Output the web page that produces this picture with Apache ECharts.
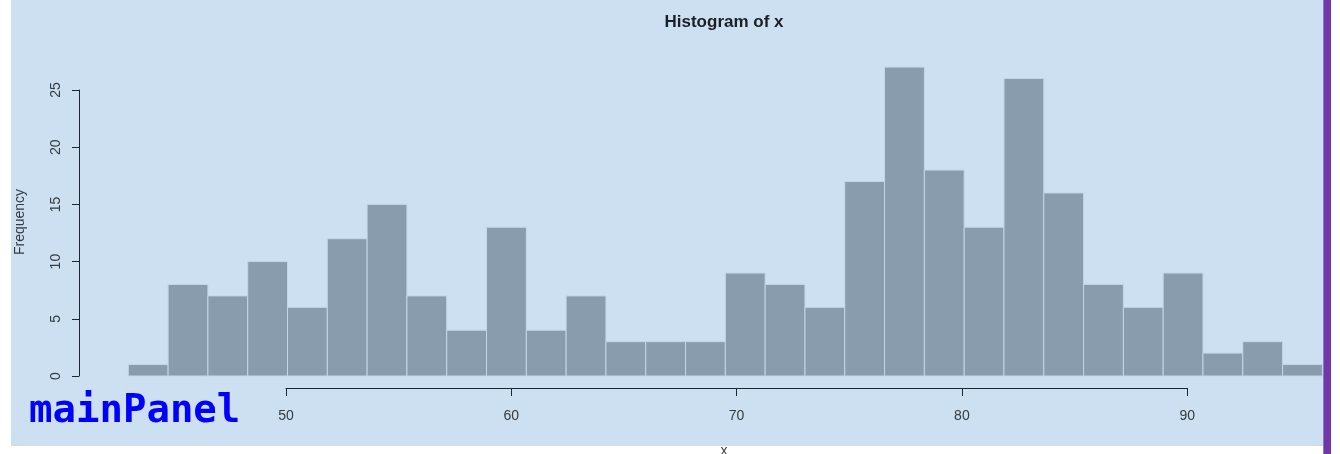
<!DOCTYPE html>
<html>
<head>
<meta charset="utf-8">
<script src="https://cdn.jsdelivr.net/npm/echarts@6/dist/echarts.min.js"></script>
<style>
  html, body { margin: 0; padding: 0; background: #ffffff; }
  #main { width: 1340px; height: 454px; }
</style>
</head>
<body>
<div id="main"></div>
<script>
// Histogram of x: 30 equal-width bins spanning 43 .. 96
const binLow = 43;
const binHigh = 96;
const counts = [1, 8, 7, 10, 6, 12, 15, 7, 4, 13, 4, 7, 3, 3, 3, 9, 8, 6, 17, 27, 18, 13, 26, 16, 8, 6, 9, 2, 3, 1];
const xTicks = [50, 60, 70, 80, 90];
const yTicks = [0, 5, 10, 15, 20, 25];

const binWidth = (binHigh - binLow) / counts.length;
const bins = counts.map((c, i) => [binLow + i * binWidth, binLow + (i + 1) * binWidth, c]);

const panelBg = '#cce0f1';
const barFill = '#899cad';
const barEdge = '#c4d5e4';
const inkAxis = '#1e2630';
const inkLabel = '#353a41';
const labelFont = 'Liberation Sans, Arial, sans-serif';

const chart = echarts.init(document.getElementById('main'), null, { renderer: 'canvas' });

chart.setOption({
  animation: false,
  backgroundColor: '#ffffff',
  grid: [
    // plotting region for the bars
    { left: 128.3, right: 17.6, top: 32.8, bottom: 78, outerBoundsMode: 'none', containLabel: false },
    // frame carrying the visible y axis (0..25)
    { left: 79, width: 1, top: 90, bottom: 78, outerBoundsMode: 'none', containLabel: false },
    // frame carrying the visible x axis (50..90)
    { left: 286, right: 152.8, top: 387, bottom: 66, outerBoundsMode: 'none', containLabel: false }
  ],
  xAxis: [
    { gridIndex: 0, type: 'value', min: binLow, max: binHigh, show: false },
    { gridIndex: 1, type: 'value', min: 0, max: 1, show: false },
    {
      gridIndex: 2, type: 'value', position: 'bottom',
      min: xTicks[0], max: xTicks[xTicks.length - 1], interval: xTicks[1] - xTicks[0],
      axisLine: { show: true, lineStyle: { color: inkAxis, width: 1 } },
      axisTick: { show: true, length: 8, lineStyle: { color: inkAxis, width: 1 } },
      axisLabel: { show: true, margin: 21, fontSize: 14, fontFamily: labelFont, color: inkLabel,
                   showMinLabel: true, showMaxLabel: true },
      splitLine: { show: false }
    }
  ],
  yAxis: [
    { gridIndex: 0, type: 'value', min: 0, max: 30, show: false },
    {
      gridIndex: 1, type: 'value', position: 'left',
      min: yTicks[0], max: yTicks[yTicks.length - 1], interval: yTicks[1] - yTicks[0],
      axisLine: { show: true, lineStyle: { color: inkAxis, width: 1 } },
      axisTick: { show: true, length: 7, lineStyle: { color: inkAxis, width: 1 } },
      axisLabel: { show: true, rotate: 90, margin: 16, fontSize: 14, fontFamily: labelFont, color: inkLabel,
                   showMinLabel: true, showMaxLabel: true },
      splitLine: { show: false }
    },
    { gridIndex: 2, type: 'value', min: 0, max: 1, show: false }
  ],
  series: [{
    type: 'custom',
    xAxisIndex: 0,
    yAxisIndex: 0,
    data: bins,
    encode: { x: [0, 1], y: 2 },
    clip: false,
    renderItem: function (params, api) {
      const topLeft = api.coord([api.value(0), api.value(2)]);
      const bottomRight = api.coord([api.value(1), 0]);
      return {
        type: 'rect',
        shape: {
          x: topLeft[0],
          y: topLeft[1],
          width: bottomRight[0] - topLeft[0],
          height: bottomRight[1] - topLeft[1]
        },
        style: { fill: barFill, stroke: barEdge, lineWidth: 1 }
      };
    }
  }],
  graphic: [
    { type: 'rect', z: -100, shape: { x: 11, y: 0, width: 1312, height: 446 }, style: { fill: panelBg } },
    { type: 'rect', z: -99, shape: { x: 1323, y: 0, width: 8, height: 454 }, style: { fill: '#6f37a8' } },
    { type: 'rect', z: -98, shape: { x: 1323, y: 0, width: 1, height: 454 }, style: { fill: '#8c77c6' } },
    {
      type: 'text', z: 10, x: 724, y: 22.5,
      style: { text: 'Histogram of x', fill: '#1c1f24', font: 'bold 17px Liberation Sans, Arial, sans-serif',
               textAlign: 'center', textVerticalAlign: 'middle' }
    },
    {
      type: 'text', z: 10, x: 20, y: 222, rotation: Math.PI / 2,
      style: { text: 'Frequency', fill: inkLabel, font: '14px Liberation Sans, Arial, sans-serif',
               textAlign: 'center', textVerticalAlign: 'middle' }
    },
    {
      type: 'text', z: 10, x: 724, y: 458,
      style: { text: 'x', fill: '#4a3f3a', font: '14px Liberation Sans, Arial, sans-serif',
               textAlign: 'center', textVerticalAlign: 'bottom' }
    },
    {
      type: 'text', z: 10, x: 29, y: 412,
      style: { text: 'mainPanel', fill: '#0000ff', font: 'bold 39px DejaVu Sans Mono, monospace',
               textAlign: 'left', textVerticalAlign: 'middle' }
    }
  ]
});
</script>
</body>
</html>
